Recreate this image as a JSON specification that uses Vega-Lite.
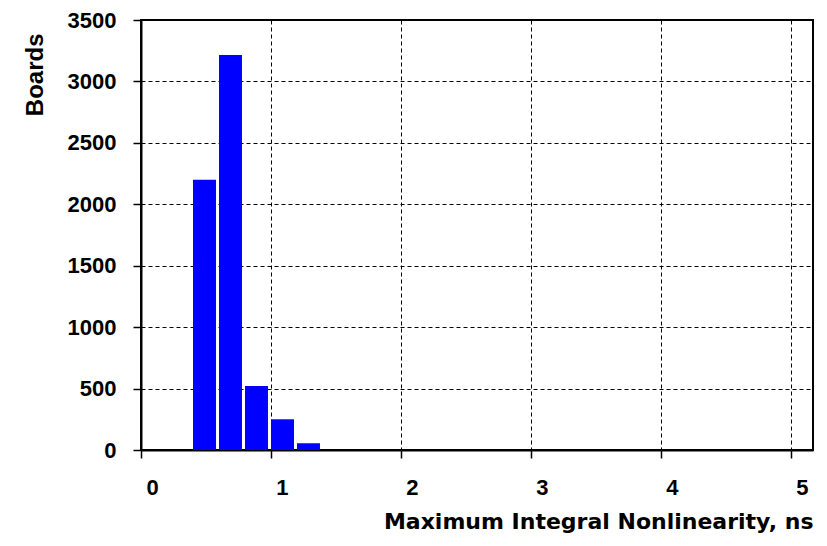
{
  "$schema": "https://vega.github.io/schema/vega-lite/v6.json",
  "width": 672,
  "height": 430,
  "autosize": {"type": "none"},
  "padding": {"left": 141, "top": 20, "right": 14, "bottom": 96},
  "background": "white",
  "config": {
    "view": {"stroke": "black", "strokeWidth": 2},
    "font": "Liberation Sans"
  },
  "data": {
    "values": [
      {"start": 0.4, "end": 0.6, "boards": 2200},
      {"start": 0.6, "end": 0.8, "boards": 3215},
      {"start": 0.8, "end": 1.0, "boards": 520},
      {"start": 1.0, "end": 1.2, "boards": 250},
      {"start": 1.2, "end": 1.4, "boards": 55}
    ]
  },
  "mark": {"type": "bar", "color": "#0000FF", "x2Offset": -3},
  "encoding": {
    "x": {
      "field": "start",
      "type": "quantitative",
      "scale": {"domain": [0, 5.17], "nice": false, "zero": false},
      "axis": {
        "values": [0, 1, 2, 3, 4, 5],
        "format": "d",
        "title": "Maximum Integral Nonlinearity, ns",
        "titleAnchor": "end",
        "titleAlign": "right",
        "titleFont": "DejaVu Sans",
        "titleFontSize": 22,
        "titleFontWeight": "bold",
        "titleColor": "black",
        "titlePadding": 13,
        "labelFont": "Liberation Sans",
        "labelFontSize": 22,
        "labelFontWeight": "bold",
        "labelColor": "black",
        "labelOffset": 11,
        "labelPadding": 19,
        "labelFlush": false,
        "tickSize": 8,
        "tickColor": "black",
        "tickWidth": 1.5,
        "domainColor": "black",
        "domainWidth": 2,
        "grid": true,
        "gridColor": "black",
        "gridDash": [4, 3],
        "gridWidth": 1,
        "gridOpacity": 1
      }
    },
    "x2": {"field": "end"},
    "y": {
      "field": "boards",
      "type": "quantitative",
      "scale": {"domain": [0, 3500], "nice": false},
      "axis": {
        "values": [0, 500, 1000, 1500, 2000, 2500, 3000, 3500],
        "format": "d",
        "title": "Boards",
        "titleAlign": "right",
        "titleBaseline": "alphabetic",
        "titleX": -99,
        "titleY": 13,
        "titleAngle": -90,
        "titleFont": "Liberation Sans",
        "titleFontSize": 24,
        "titleFontWeight": "bold",
        "titleColor": "black",
        "labelFont": "Liberation Sans",
        "labelFontSize": 22,
        "labelFontWeight": "bold",
        "labelColor": "black",
        "labelPadding": 17,
        "labelFlush": false,
        "tickSize": 8,
        "tickColor": "black",
        "tickWidth": 1.5,
        "domainColor": "black",
        "domainWidth": 2,
        "grid": true,
        "gridColor": "black",
        "gridDash": [4, 3],
        "gridWidth": 1,
        "gridOpacity": 1
      }
    },
    "y2": {"datum": 0}
  }
}
